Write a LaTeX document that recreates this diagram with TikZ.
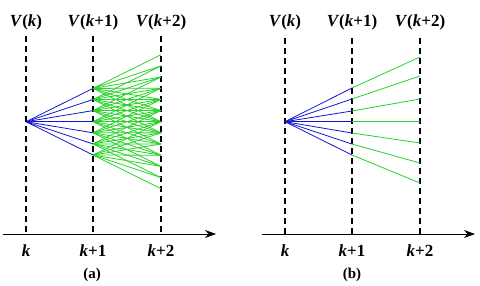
\documentclass[tikz,border=0pt]{standalone}
\usepackage{fontspec}
\setmainfont{Liberation Serif}
\usetikzlibrary{arrows.meta}
\definecolor{pblue}{RGB}{20,20,210}
\definecolor{pgreen}{RGB}{40,210,40}
\tikzset{
  guide/.style={line width=1.4pt, dash pattern=on 6pt off 4pt},
  axis/.style={line width=0.8pt, -{Stealth[length=11pt,width=8pt]}},
  bline/.style={pblue, line width=0.8pt},
  gline/.style={pgreen, line width=0.8pt},
  lbl/.style={font=\fontsize{17}{19}\selectfont\bfseries, inner sep=0pt},
  captxt/.style={font=\fontsize{15}{17}\selectfont\bfseries, inner sep=0pt}
}
\begin{document}
\begin{tikzpicture}[x=1pt,y=-1pt]
\useasboundingbox (0,0) rectangle (480,285);
% ---------------- panel (a)
\foreach \x/\n in {26/a0,93/a1,161/a2}{
  \coordinate (\n t) at (\x,36);
  \coordinate (\n b) at (\x,234);
  \draw[guide] (\n t) -- (\n b);
}
\coordinate (aL) at (3,234);
\coordinate (aR) at (216,234);
\draw[axis] (aL) -- (aR);
\coordinate (aO) at (26,121.7);
\foreach \i in {-3,...,3}{
  \coordinate (aB\i) at (93,121.7+11.1*\i);
}
\foreach \j in {-6,...,6}{
  \coordinate (aG\j) at (161,121.7+11.17*\j);
}
\foreach \i in {-3,...,3}{
  \foreach \d in {-3,...,3}{
    \pgfmathtruncatemacro{\j}{\i+\d}
    \draw[gline] (aB\i) -- (aG\j);
  }
}
\foreach \i in {-3,...,3}{
  \draw[bline] (aO) -- (aB\i);
}
\node[lbl] (av0) at (26,22) {\textit{V}(\textit{k})};
\node[lbl] (av1) at (93,22) {\textit{V}(\textit{k}+1)};
\node[lbl] (av2) at (161,22) {\textit{V}(\textit{k}+2)};
\node[lbl] (ak0) at (26,251) {\textit{k}};
\node[lbl] (ak1) at (93,251) {\textit{k}+1};
\node[lbl] (ak2) at (161,251) {\textit{k}+2};
\node[captxt] (acap) at (92,275) {(a)};
% ---------------- panel (b)
\foreach \x/\n in {285/b0,352/b1,420/b2}{
  \coordinate (\n t) at (\x,38);
  \coordinate (\n b) at (\x,234);
  \draw[guide] (\n t) -- (\n b);
}
\coordinate (bL) at (262,234);
\coordinate (bR) at (475,234);
\draw[axis] (bL) -- (bR);
\coordinate (bO) at (285,121.7);
\foreach \i/\yb/\yg in {1/88/57,2/99/76,3/111/99,4/121.7/121.7,5/133/143,6/144/163,7/155/183}{
  \coordinate (bB\i) at (352,\yb);
  \coordinate (bG\i) at (420,\yg);
  \draw[gline] (bB\i) -- (bG\i);
  \draw[bline] (bO) -- (bB\i);
}
\node[lbl] (bv0) at (285,22) {\textit{V}(\textit{k})};
\node[lbl] (bv1) at (352,22) {\textit{V}(\textit{k}+1)};
\node[lbl] (bv2) at (420,22) {\textit{V}(\textit{k}+2)};
\node[lbl] (bk0) at (285,251) {\textit{k}};
\node[lbl] (bk1) at (352,251) {\textit{k}+1};
\node[lbl] (bk2) at (420,251) {\textit{k}+2};
\node[captxt] (bcap) at (352,275) {(b)};
\end{tikzpicture}
\end{document}
